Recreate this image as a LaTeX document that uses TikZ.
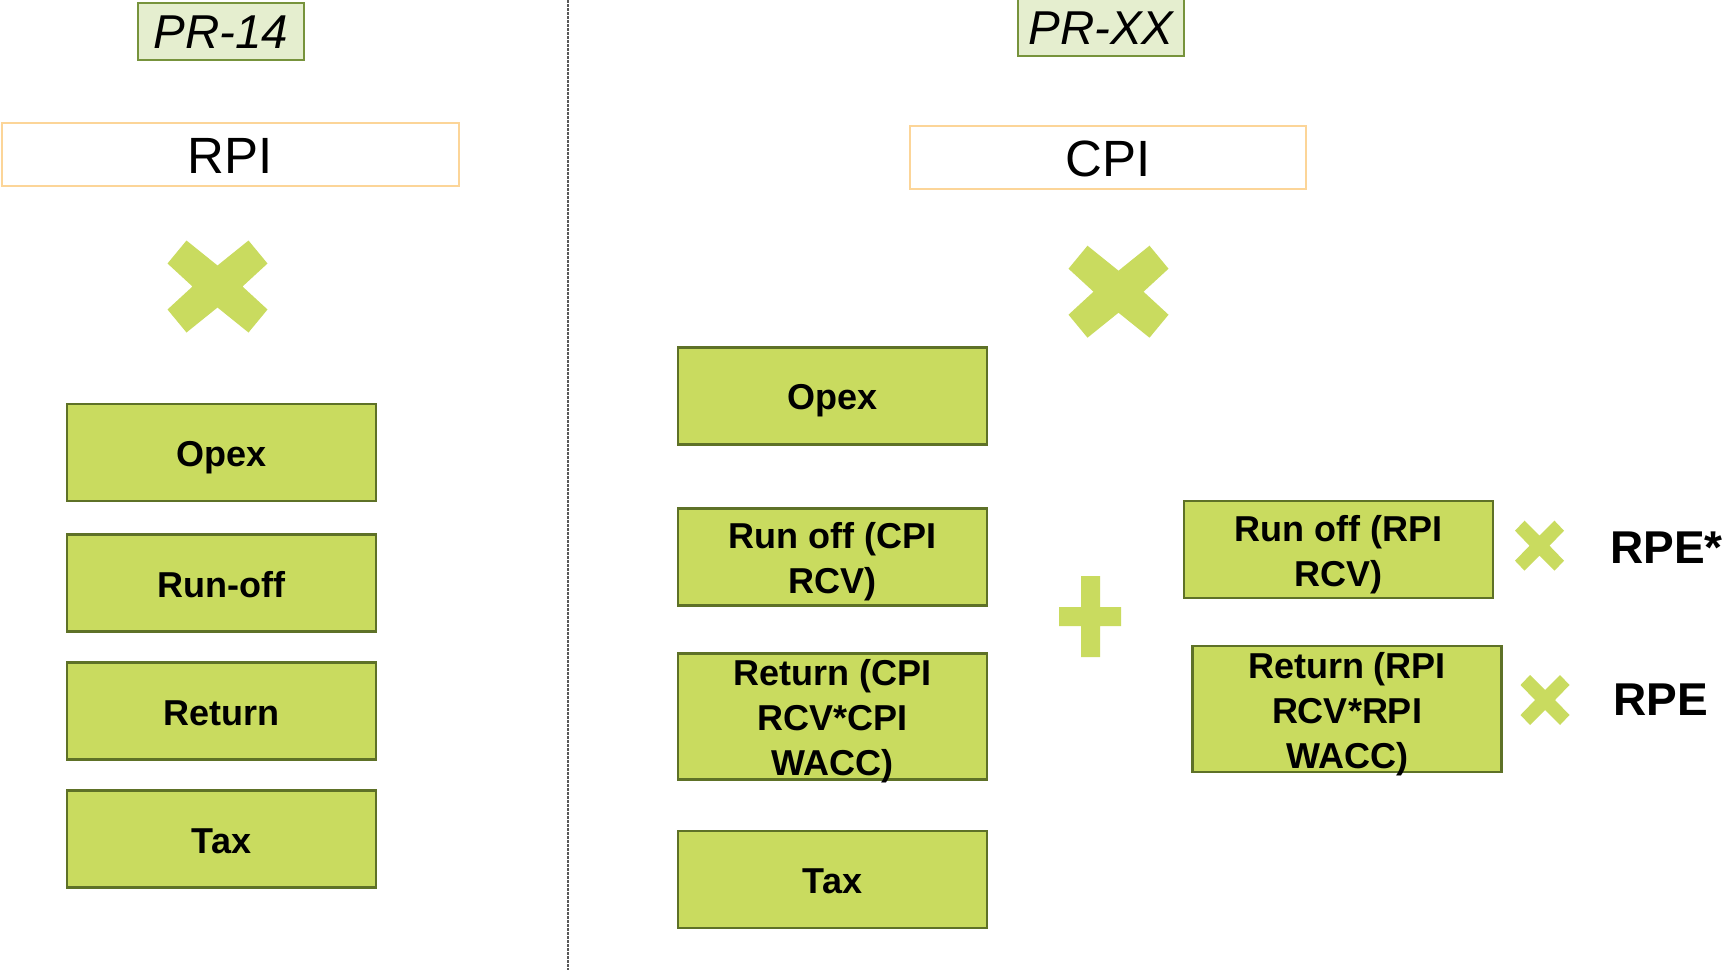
\documentclass[tikz,border=0pt]{standalone}
\usepackage{fontspec}
\setmainfont{Liberation Sans}
\definecolor{gfill}{HTML}{C9DB5F}
\definecolor{gborder}{HTML}{5E7127}
\definecolor{xgreen}{HTML}{C9DB5F}
\definecolor{prfill}{HTML}{E5EECF}
\definecolor{prborder}{HTML}{77933C}
\definecolor{oborder}{HTML}{FCD598}
\newcommand\topst{\rule{0pt}{36pt}}
\newcommand\botst{\rule[-8pt]{0pt}{8pt}}
\begin{document}
\begin{tikzpicture}[x=1pt,y=-1pt,
  gbox/.style={draw=gborder, fill=gfill, line width=2.5pt, minimum width=309pt,
    minimum height=97pt, inner sep=0pt, align=center,
    font=\fontsize{36}{45}\selectfont\bfseries},
  tall/.style={minimum height=126pt, inner ysep=-5pt},
  prbox/.style={draw=prborder, fill=prfill, line width=2pt, minimum width=166pt,
    minimum height=57pt, inner sep=0pt, text height=43pt, text depth=9pt,
    font=\fontsize{47.5}{55}\selectfont\itshape},
  idxbox/.style={draw=oborder, line width=2pt, minimum height=63pt, inner sep=0pt,
    text height=46pt, text depth=8pt, font=\fontsize{51}{60}\selectfont},
  rpetext/.style={anchor=base west, inner sep=0pt, font=\fontsize{46}{54}\selectfont\bfseries},
  bigx/.pic={\fill[xgreen] (-50,-23) -- (-31,-46) -- (0,-21) -- (31,-46) -- (50,-23) -- (25,0)
    -- (50,23) -- (31,46) -- (0,21) -- (-31,46) -- (-50,23) -- (-25,0) -- cycle;},
  smallx/.pic={\fill[xgreen] (-24.5,-15) -- (-15,-25) -- (0,-10) -- (15,-25) -- (24.5,-15) -- (10,0)
    -- (24.5,15) -- (15,25) -- (0,10) -- (-15,25) -- (-24.5,15) -- (-10,0) -- cycle;}
]
\useasboundingbox (0,0) rectangle (1723,970);
\fill[white] (0,0) rectangle (1723,970);

% separator
\draw[gray!70!black, line width=1.5pt, dash pattern=on 2.5pt off 1.5pt] (568,0) -- (568,970);

% headers
\node[prbox] (pr14) at (221,31) {PR-14};
\node[prbox] (prxx) at (1101,27) {PR-XX};
\node[idxbox, minimum width=457pt] (rpi) at (230,154.5) {RPI};
\node[idxbox, minimum width=396pt] (cpi) at (1108,157) {CPI};

% big multiplication signs
\pic at (217.5,286.5) {bigx};
\pic at (1118.5,291.7) {bigx};

% left column
\node[gbox] (lopex) at (221.5,452.5) {\topst Opex\botst};
\node[gbox] (lrun) at (221.5,583) {\topst Run-off\botst};
\node[gbox] (lret) at (221.5,711.2) {\topst Return\botst};
\node[gbox] (ltax) at (221.5,839) {\topst Tax\botst};

% right column
\node[gbox] (ropex) at (832.5,395.8) {\topst Opex\botst};
\node[gbox] (rrun) at (832.5,557.2) {\topst Run off (CPI\\RCV)\botst};
\node[gbox, tall] (rret) at (832.5,716.7) {\topst Return (CPI\\RCV*CPI\\WACC)\botst};
\node[gbox] (rtax) at (832.5,879.7) {\topst Tax\botst};

% plus sign
\fill[xgreen] (1081,576) -- (1100,576) -- (1100,607) -- (1121,607) -- (1121,626) -- (1100,626)
  -- (1100,657) -- (1081,657) -- (1081,626) -- (1059,626) -- (1059,607) -- (1081,607) -- cycle;

% RPI components
\node[gbox] (prun) at (1338.7,549.7) {\topst Run off (RPI\\RCV)\botst};
\node[gbox, tall] (pret) at (1347,709.2) {\topst Return (RPI\\RCV*RPI\\WACC)\botst};

\pic at (1539.5,545.7) {smallx};
\pic at (1545,700) {smallx};

\node[rpetext] (rpestar) at (1610,563) {RPE*};
\node[rpetext] (rpe) at (1613,715) {RPE};
\end{tikzpicture}
\end{document}
